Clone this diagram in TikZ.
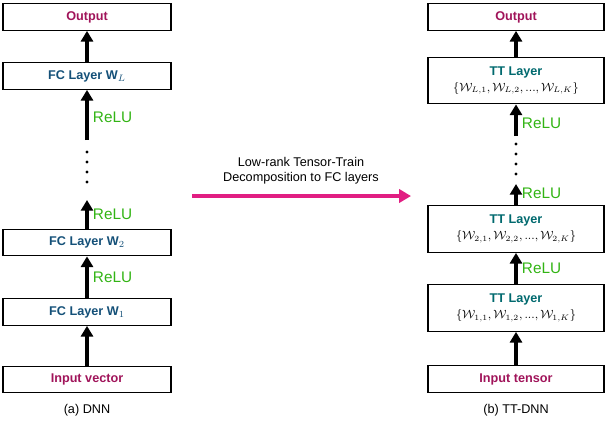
\documentclass[tikz,border=0pt]{standalone}
\usepackage{fontspec}
\setmainfont{Liberation Sans}
\usepackage{amsmath}
\usepackage{amssymb}
\usetikzlibrary{positioning,arrows.meta}
\definecolor{mymagenta}{RGB}{160,20,90}
\definecolor{myblue}{RGB}{20,80,120}
\definecolor{myteal}{RGB}{0,105,110}
\definecolor{mygreen}{RGB}{50,180,20}
\definecolor{mypink}{RGB}{225,30,130}
\begin{document}
\begin{tikzpicture}[x=0.75pt,y=-0.75pt,font=\fontsize{9.5}{11}\selectfont,
  layer/.style={draw,thick,minimum height=20pt,font=\fontsize{9.5}{11}\selectfont\bfseries},
  fcnode/.style={layer,minimum width=126pt},
  ttnode/.style={layer,minimum width=132pt,minimum height=35pt,align=center,inner sep=2pt},
  up/.style={-{Triangle[length=8pt,width=9pt]},line width=2.3pt},
  dots/.style={line width=2.5pt,line cap=round,dash pattern=on 0pt off 7.5pt},
  relu/.style={right,text=mygreen,font=\fontsize{11.5}{12}\selectfont}
]
\useasboundingbox (0,0) rectangle (606,426);
% the DNN column
\node[fcnode,text=mymagenta] (out) at (87,17) {Output};
\node[fcnode,text=myblue] (fcL) at (87,76) {FC Layer $\mathbf{W}_L$};
\node[fcnode,text=myblue] (fc2) at (87,242.5) {FC Layer $\mathbf{W}_2$};
\node[fcnode,text=myblue] (fc1) at (87,312) {FC Layer $\mathbf{W}_1$};
\node[fcnode,text=mymagenta] (in) at (87,379.5) {Input vector};
\node (capa) at (87,410) {(a) DNN};
\coordinate (dA) at (87,140);
\coordinate (dB) at (87,152);
\coordinate (dC) at (87,192);
\coordinate (dD) at (87,200);

% the TT-DNN column
\node[fcnode,minimum width=132pt,text=mymagenta] (tout) at (516,17) {Output};
\node[ttnode] (ttL) at (516,80.5) {\textcolor{myteal}{TT Layer}\\[1pt]\mdseries\small$\{\mathcal{W}_{L,1},\mathcal{W}_{L,2},...,\mathcal{W}_{L,K}\}$};
\node[ttnode] (tt2) at (516,229) {\textcolor{myteal}{TT Layer}\\[1pt]\mdseries\small$\{\mathcal{W}_{2,1},\mathcal{W}_{2,2},...,\mathcal{W}_{2,K}\}$};
\node[ttnode] (tt1) at (516,308) {\textcolor{myteal}{TT Layer}\\[1pt]\mdseries\small$\{\mathcal{W}_{1,1},\mathcal{W}_{1,2},...,\mathcal{W}_{1,K}\}$};
\node[fcnode,minimum width=132pt,text=mymagenta] (tin) at (516,379) {Input tensor};
\node (capb) at (516,410) {(b) TT-DNN};
\coordinate (eA) at (516,136);
\coordinate (eB) at (516,144);
\coordinate (eC) at (516,176);
\coordinate (eD) at (516,184);

% the edges
\draw[up] (fcL) -- (out);
\draw[up] (dA) -- node[relu,pos=0.45] {ReLU} (fcL);
\draw[dots] (dB) -- (dC);
\draw[up] (fc2) -- node[relu,pos=0.5] {ReLU} (dD);
\draw[up] (fc1) -- node[relu] {ReLU} (fc2);
\draw[up] (in) -- (fc1);

\draw[up] (ttL) -- (tout);
\draw[up] (eA) -- node[relu,pos=0.4] {ReLU} (ttL);
\draw[dots] (eB) -- (eC);
\draw[up] (tt2) -- node[relu,pos=0.55] {ReLU} (eD);
\draw[up] (tt1) -- node[relu] {ReLU} (tt2);
\draw[up] (tin) -- (tt1);

% the middle arrow
\coordinate (ms) at (192,196);
\coordinate (me) at (411,196);
\draw[-{Triangle[length=9pt,width=10pt]},line width=3pt,mypink] (ms) -- (me);
\node[align=center] (mtxt) at (301,171) {Low-rank Tensor-Train\\Decomposition to FC layers};
\end{tikzpicture}
\end{document}
